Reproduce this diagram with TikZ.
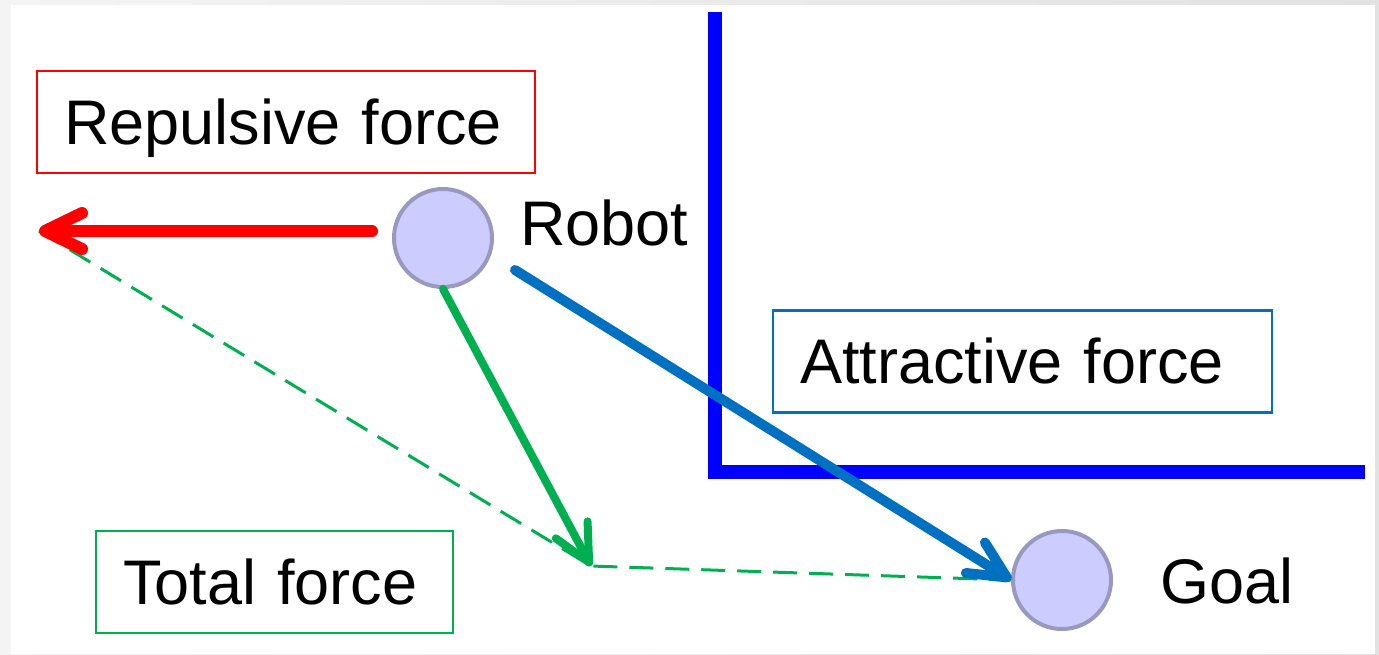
\documentclass[tikz,border=0pt]{standalone}
\usepackage{fontspec}
\setmainfont{Liberation Sans}
\usetikzlibrary{arrows.meta}
\definecolor{repred}{RGB}{255,0,0}
\definecolor{attblue}{RGB}{0,112,192}
\definecolor{wallblue}{RGB}{0,0,255}
\definecolor{totgreen}{RGB}{0,176,80}
\definecolor{bodyfill}{RGB}{204,204,255}
\definecolor{bodyline}{RGB}{153,153,192}
\definecolor{frameleft}{RGB}{244,244,244}
\definecolor{frameright}{RGB}{226,226,226}

\begin{document}
\begin{tikzpicture}[x=1pt,y=-1pt,
  every node/.style={font=\fontsize{63}{75}\selectfont, text=black},
  labelbox/.style={draw, line width=2.5pt, fill=white, inner xsep=27pt,
    inner ysep=0pt, align=left, minimum height=102pt,
    text height=54pt, text depth=10pt},
  body/.style={circle, draw=bodyline, fill=bodyfill, line width=4pt,
    minimum size=98pt, inner sep=0pt},
  force/.style={line width=#1, line cap=round,
    -{Straight Barb[round,length=37pt,width=36pt]}},
  wall/.style={wallblue, line width=14pt, line join=miter},
  resultant/.style={totgreen, line width=3pt, dash pattern=on 24pt off 12pt}
]
\useasboundingbox (0,0) rectangle (1379,654);

% page frame
\shade[left color=frameleft, right color=frameright] (0,0) rectangle (1379,654);
\fill[white] (11,5) rectangle (1375,654);

% obstacle corner
\draw[wall] (715,12) -- (715,472) -- (1365,472);

% labels
\node[labelbox, draw=repred, text width=444pt] (repbox) at (286,122) {Repulsive force};
\node[labelbox, draw=attblue, text width=445pt] (attbox) at (1022.5,361.5) {Attractive force};
\node[labelbox, draw=totgreen, text width=303pt] (totbox) at (274.5,582) {Total force};

% robot and goal
\node[body] (robot) at (443,238) {};
\node[body] (goal) at (1062,580) {};
\node[anchor=base west, inner sep=0pt] (robotlbl) at (520,245) {Robot};
\node[anchor=base west, inner sep=0pt] (goallbl) at (1160,603) {Goal};

% force vectors
\coordinate (reptip) at (39,231);
\coordinate (repstart) at (372,231);
\coordinate (tottip) at (591,566);
\coordinate (attstart) at (515,270);

\draw[resultant] (reptip) -- (tottip) -- (goal.west);
\draw[force=12pt, repred] (repstart) -- (reptip);
\draw[force=8pt, totgreen] (robot.south) -- (tottip);
\draw[force=10pt, attblue] (attstart) -- (goal.west);
\end{tikzpicture}
\end{document}
